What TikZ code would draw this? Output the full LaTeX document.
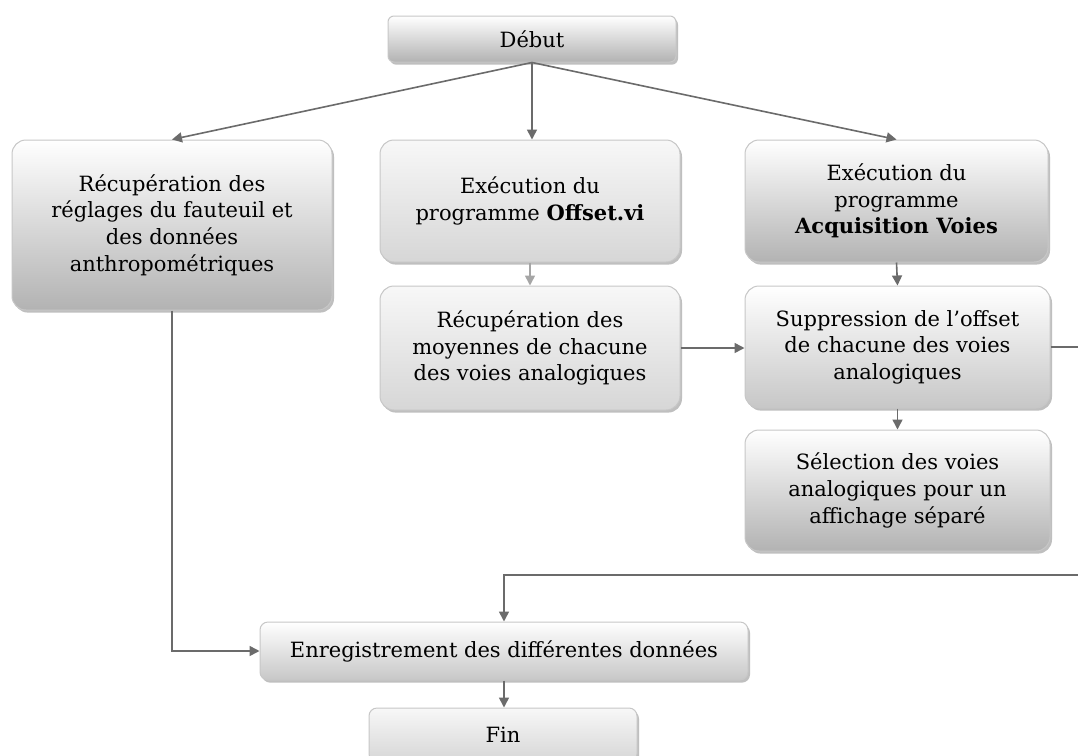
\documentclass[tikz,border=0pt]{standalone}
\usepackage{fontspec}
\setmainfont{DejaVu Serif}
\usetikzlibrary{arrows.meta,shadows}
\begin{document}
\begin{tikzpicture}[x=0.5pt,y=-0.5pt,
  font=\fontsize{10.5}{13.3}\selectfont,
  boxbase/.style={draw=black!22, line width=0.5pt, rounded corners=7pt, align=center, inner sep=2pt,
    drop shadow={shadow xshift=1pt, shadow yshift=-1.3pt, fill=black!45, opacity=.55}},
  boxdark/.style={boxbase, top color=white, bottom color=black!30},
  boxmid/.style={boxbase, top color=white, bottom color=black!22},
  boxlight/.style={boxbase, top color=black!3, bottom color=black!16},
  arr/.style={draw=black!58, line width=0.8pt, -{Triangle[length=5pt,width=5pt]}},
  arrlight/.style={draw=black!35, line width=0.8pt, -{Triangle[length=5pt,width=5pt]}},
  line/.style={draw=black!58, line width=0.8pt}
]
\useasboundingbox (0,0) rectangle (1078,756);
\clip (0,0) rectangle (1078,756);
\fill[white] (0,0) rectangle (1078,756);

\node[boxdark, rounded corners=3pt, minimum width=144pt, minimum height=23pt] (deb) at (532,39) {Début};
\node[boxdark, minimum width=160pt, minimum height=85pt] (L) at (172,225)
  {Récupération des\\réglages du fauteuil et\\des données\\anthropométriques};
\node[boxlight, minimum width=150pt, minimum height=61pt] (M1) at (530,201)
  {Exécution du\\programme \textbf{Offset.vi}};
\node[boxdark, minimum width=151.5pt, minimum height=61pt] (R1) at (896.5,201)
  {Exécution du\\programme\\\textbf{Acquisition Voies}};
\node[boxlight, minimum width=150pt, minimum height=62pt] (M2) at (530,348)
  {Récupération des\\moyennes de chacune\\des voies analogiques};
\node[boxmid, minimum width=152.5pt, minimum height=61pt] (R2) at (897.5,347)
  {Suppression de l’offset\\de chacune des voies\\analogiques};
\node[boxdark, minimum width=152.5pt, minimum height=60.5pt] (R3) at (897.5,490.5)
  {Sélection des voies\\analogiques pour un\\affichage séparé};
\node[boxmid, rounded corners=4pt, minimum width=244pt, minimum height=29pt] (enr) at (504,651)
  {Enregistrement des différentes données};
\node[boxlight, rounded corners=4pt, minimum width=134pt, minimum height=27pt] (fin) at (503,735) {Fin};

\coordinate (o2) at (1110,575);

\draw[arr] (deb.south) -- (L.north);
\draw[arr] (deb.south) -- (deb.south |- M1.north);
\draw[arr] (deb.south) -- (R1.north);
\draw[arrlight] (M1.south) -- (M2.north);
\draw[arr] (M2.east) -- (M2.east -| R2.west);
\draw[arr] (R1.south) -- (R2.north);
\draw[arr] (R2.south) -- (R3.north);
\draw[arr] (L.south) |- (enr.west);
\draw[arr] (R2.east) -| (o2) -| (enr.north);
\draw[arr] (enr.south) -- (enr.south |- fin.north);
\end{tikzpicture}
\end{document}
